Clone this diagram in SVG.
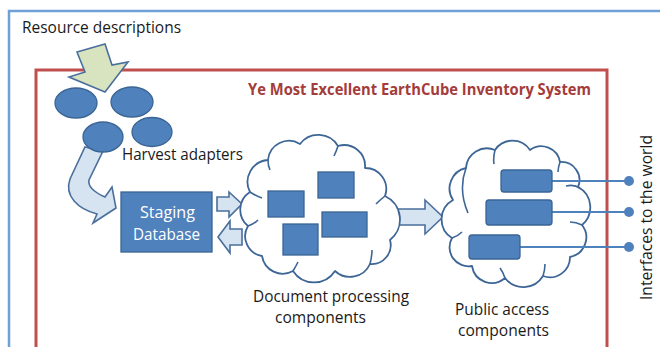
<svg xmlns="http://www.w3.org/2000/svg" width="660" height="347" viewBox="0 0 660 347">
<style>
.t{font-family:"Open Sans","Liberation Sans",sans-serif;font-size:16px;fill:#1a1a1a}
.w{font-family:"Open Sans","Liberation Sans",sans-serif;font-size:17px;fill:#ffffff}
.blk{fill:#4f81bd;stroke:#3a6594;stroke-width:1.3}
.arr{fill:#d6e3f1;stroke:#4a6f9c;stroke-width:1.6;stroke-linejoin:miter}
.cloud{fill:#ffffff;stroke:#3d6696;stroke-width:1.8;stroke-linejoin:round}
.inner{fill:none;stroke:#3d6696;stroke-width:1.6}
.wire{stroke:#4f81bd;stroke-width:2;fill:none}
</style>
<rect x="0" y="0" width="660" height="347" fill="#ffffff"/>
<g id="frame">
<rect x="9" y="11" width="700" height="400" fill="none" stroke="#6fa1d6" stroke-width="2.5"/>
<text class="t" x="22" y="33" textLength="159" lengthAdjust="spacingAndGlyphs">Resource descriptions</text>
</g>
<g id="system">
<rect x="36" y="70" width="571" height="350" fill="none" stroke="#c0504d" stroke-width="3"/>
<text x="248" y="95" textLength="343" lengthAdjust="spacingAndGlyphs" style="font-family:'Open Sans','Liberation Sans',sans-serif;font-size:16px;font-weight:bold;fill:#a33c3a">Ye Most Excellent EarthCube Inventory System</text>
</g>
<g id="connectors">
<path d="M77,52 L105,44 L112,65 L128,62 L105,92 L69,77 L85,72 Z" fill="#d8e4bf" stroke="#4a6f9c" stroke-width="1.6"/>
<path class="arr" d="M85,147 L103,151 L89,180 Q87,189 105,197 L112,187 L116,208 L93,223 L97,214 C78,209 64,196 70,179 Z"/>
<path class="arr" d="M217,197 L229,197 L229,192 L242,204 L229,217 L229,211 L217,211 Z"/>
<path class="arr" d="M242,229 L230,229 L230,221 L218,237 L230,253 L230,245 L242,245 Z"/>
<path class="arr" d="M396,209 L425,209 L425,200 L443,217 L425,234 L425,225 L396,225 Z"/>
</g>
<g id="harvest-adapters">
<ellipse class="blk" cx="76" cy="103" rx="21" ry="15"/>
<ellipse class="blk" cx="132" cy="102" rx="21" ry="15"/>
<ellipse class="blk" cx="103" cy="137" rx="20" ry="15"/>
<ellipse class="blk" cx="152" cy="132" rx="20" ry="14.5"/>
<text class="t" x="122" y="160" textLength="121" lengthAdjust="spacingAndGlyphs">Harvest adapters</text>
</g>
<g id="staging-database">
<rect class="blk" x="121" y="192" width="91" height="60"/>
<text class="w" x="140" y="218" textLength="55" lengthAdjust="spacingAndGlyphs">Staging</text>
<text class="w" x="133" y="240" textLength="67" lengthAdjust="spacingAndGlyphs">Database</text>
</g>
<g id="document-processing">
<path class="cloud" d="M250,192 A22,22 0 0,1 268,160 A21,21 0 0,1 300,144 A23,23 0 0,1 338,146 A21,21 0 0,1 365,168 A21,21 0 0,1 385,196 A26,26 0 0,1 390,240 A19,19 0 0,1 370,264 A22,22 0 0,1 335,271 A25,25 0 0,1 293,271 A21,21 0 0,1 262,256 A20,20 0 0,1 248,226 A21,21 0 0,1 250,192 Z"/>
<path class="inner" d="M250,192 Q256,196 262,198 M268,160 Q268,166 270,170 M338,146 Q336,152 334,156 M385,196 Q380,200 376,204 M370,264 Q372,256 372,250 M293,271 Q296,266 298,262 M248,226 Q254,224 258,220"/>
<rect class="blk" x="268" y="191" width="36" height="26"/>
<rect class="blk" x="318" y="172" width="36" height="26"/>
<rect class="blk" x="322" y="212" width="45" height="25"/>
<rect class="blk" x="283" y="224" width="35" height="31"/>
<text class="t" x="253" y="302" textLength="156" lengthAdjust="spacingAndGlyphs">Document processing</text>
<text class="t" x="275" y="323" textLength="91" lengthAdjust="spacingAndGlyphs">components</text>
</g>
<g id="public-access">
<path class="cloud" d="M453,200 A21,21 0 0,1 466,168 A21,21 0 0,1 495,150 A21,21 0 0,1 530,150 A19,19 0 0,1 560,162 A18,18 0 0,1 578,187 A23,23 0 0,1 582,225 A20,20 0 0,1 570,257 A20,20 0 0,1 543,276 A23,23 0 0,1 505,278 A20,20 0 0,1 472,266 A19,19 0 0,1 452,238 A22,22 0 0,1 453,200 Z"/>
<path class="inner" d="M466,168 Q458,190 468,213 M495,150 Q493,158 494,164 M560,162 Q558,168 558,172 M582,225 Q576,222 570,222 M566,186 Q574,184 580,188 M543,276 Q545,270 545,264 M505,278 Q503,272 500,268 M452,238 Q458,236 462,232"/>
<line class="wire" x1="552" y1="181" x2="629" y2="181"/>
<line class="wire" x1="552" y1="212" x2="629" y2="212"/>
<line class="wire" x1="520" y1="247" x2="629" y2="247"/>
<rect class="blk" x="501" y="170" width="51" height="22" rx="3"/>
<rect class="blk" x="486" y="200" width="66" height="25" rx="3"/>
<rect class="blk" x="469" y="235" width="51" height="24" rx="3"/>
<text class="t" x="455" y="315" textLength="94" lengthAdjust="spacingAndGlyphs">Public access</text>
<text class="t" x="458" y="336" textLength="91" lengthAdjust="spacingAndGlyphs">components</text>
</g>
<g id="interfaces">
<circle cx="629" cy="181" r="5" fill="#4f81bd"/>
<circle cx="629" cy="212" r="5" fill="#4f81bd"/>
<circle cx="629" cy="247" r="5" fill="#4f81bd"/>
<text class="t" transform="translate(652,300) rotate(-90)" x="0" y="0" textLength="165" lengthAdjust="spacingAndGlyphs">Interfaces to the world</text>
</g>
</svg>
